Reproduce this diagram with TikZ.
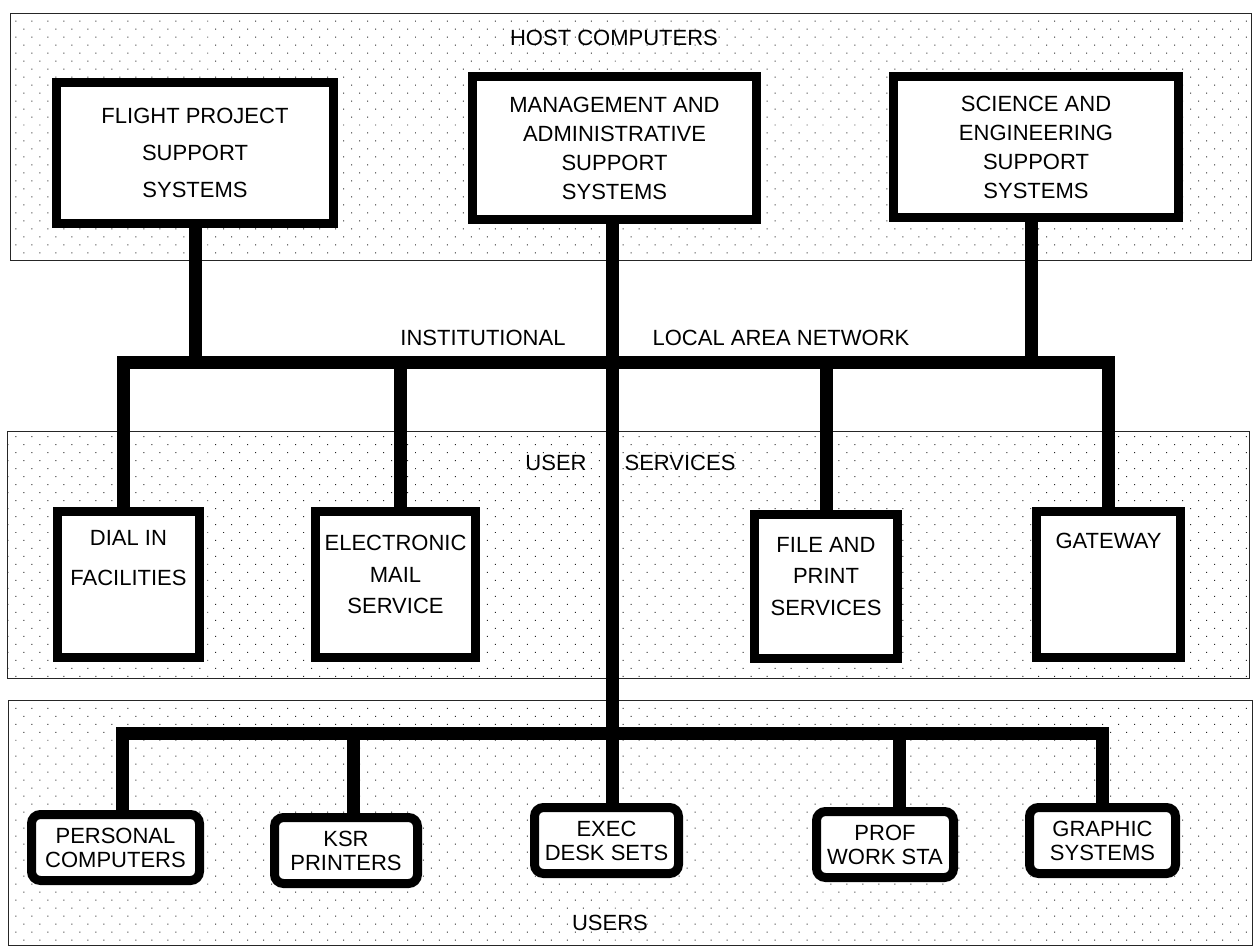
\documentclass[tikz,border=0pt]{standalone}
\usepackage{fontspec}
\setmainfont{Liberation Sans}
\usetikzlibrary{positioning,patterns.meta}

\begin{document}
\begin{tikzpicture}[x=1pt,y=-1pt,
  every node/.style={inner sep=0pt,font=\fontsize{22}{29}\selectfont},
  panel/.style={draw=black!85,line width=1pt,pattern={Dots[distance=11.3pt,angle=45,radius=0.7pt]},pattern color=black!85},
  hostbox/.style={draw,fill=white,line width=9pt,inner sep=2pt,align=center},
  userbox/.style={draw,fill=white,line width=9pt,rounded corners=9pt,inner sep=2pt,align=center,minimum height=66pt,font=\fontsize{22}{24}\selectfont},
  bus/.style={line width=13pt}]
\useasboundingbox (0,0) rectangle (1256,948);
\draw[panel] (10,13) rectangle (1251,260);
\draw[panel] (7,431) rectangle (1249,678);
\draw[panel] (8,700) rectangle (1252,945);

\node (host) at (614,38) {HOST COMPUTERS};
\node (user) at (556,463) {USER};
\node (serv) at (680,463) {SERVICES};
\node (users) at (610,923) {USERS};
\node (inst) at (483,338) {INSTITUTIONAL};
\node (lanlbl) at (781,338) {LOCAL AREA NETWORK};

\node[hostbox,minimum width=277pt,minimum height=141pt,font=\fontsize{22}{37}\selectfont] (flight) at (195,153) {FLIGHT PROJECT\\SUPPORT\\SYSTEMS};
\node[hostbox,minimum width=284pt,minimum height=143pt] (mgmt) at (614.5,148) {MANAGEMENT AND\\ADMINISTRATIVE\\SUPPORT\\SYSTEMS};
\node[hostbox,minimum width=285pt,minimum height=141pt] (sci) at (1036,147) {SCIENCE AND\\ENGINEERING\\SUPPORT\\SYSTEMS};

\node[hostbox,minimum width=142pt,minimum height=146pt] (dial) at (128.5,584.5) {};
\node[hostbox,minimum width=160pt,minimum height=146pt] (mail) at (395.5,584.5) {};
\node[hostbox,minimum width=143pt,minimum height=144pt] (file) at (826,586.5) {};
\node[hostbox,minimum width=144pt,minimum height=146pt] (gate) at (1108.5,584.5) {};
\node[below=23pt of dial.north,align=center,font=\fontsize{22}{40}\selectfont] (dialtxt) {DIAL IN\\FACILITIES};
\node[below=28pt of mail.north,align=center,font=\fontsize{22}{31.5}\selectfont] (mailtxt) {ELECTRONIC\\MAIL\\SERVICE};
\node[below=27pt of file.north,align=center,font=\fontsize{22}{31.5}\selectfont] (filetxt) {FILE AND\\PRINT\\SERVICES};
\node[below=26pt of gate.north] (gatetxt) {GATEWAY};

\node[userbox,minimum width=168pt] (pc) at (115.5,847.5) {PERSONAL\\COMPUTERS};
\node[userbox,minimum width=143pt] (ksr) at (346,850.5) {KSR\\PRINTERS};
\node[userbox,minimum width=144pt] (exec) at (606.5,840.5) {EXEC\\DESK SETS};
\node[userbox,minimum width=137pt] (prof) at (885,844.5) {PROF\\WORK STA};
\node[userbox,minimum width=146pt] (graph) at (1102.5,840.5) {GRAPHIC\\SYSTEMS};

\coordinate (lan) at (0,362);
\coordinate (ubus) at (0,733);
\coordinate (dialdrop) at ([xshift=-5.5pt]dial.north);
\coordinate (maildrop) at ([xshift=4.5pt]mail.north);
\coordinate (scidrop) at ([xshift=-5pt]sci.south);
\coordinate (mgmtdrop) at ([xshift=-2.5pt]mgmt.south);
\coordinate (pcdrop) at ([xshift=6.5pt]pc.north);
\coordinate (ksrdrop) at ([xshift=7pt]ksr.north);
\coordinate (profdrop) at ([xshift=14pt]prof.north);

\draw[bus] (dialdrop) -- (dialdrop |- lan) -- (gate.north |- lan) -- (gate.north);
\draw[bus] (flight.south) -- (flight.south |- lan);
\draw[bus] (scidrop) -- (scidrop |- lan);
\draw[bus] (maildrop) -- (maildrop |- lan);
\draw[bus] (file.north) -- (file.north |- lan);
\draw[bus] (mgmtdrop) -- (mgmtdrop |- exec.north);
\draw[bus] (pcdrop) -- (pcdrop |- ubus) -- (graph.north |- ubus) -- (graph.north);
\draw[bus] (ksrdrop) -- (ksrdrop |- ubus);
\draw[bus] (profdrop) -- (profdrop |- ubus);
\end{tikzpicture}
\end{document}
